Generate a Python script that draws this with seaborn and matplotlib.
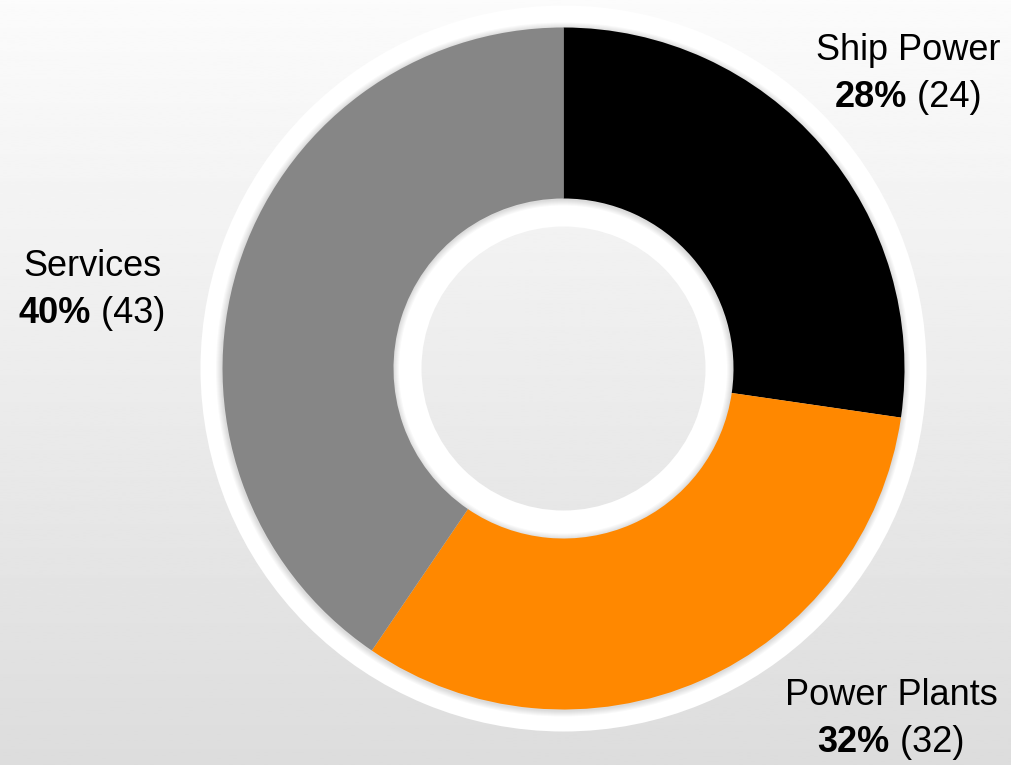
import numpy as np
import matplotlib
matplotlib.use("Agg")
import matplotlib.pyplot as plt
import seaborn as sns
from matplotlib.patches import Wedge
from matplotlib.offsetbox import TextArea, HPacker, VPacker, AnnotationBbox

# ---- data ----
segments = ["Ship Power", "Power Plants", "Services"]
shares = [27.3, 32.2, 40.5]          # slice sizes as drawn
pct_labels = [28, 32, 40]            # percentages printed on the labels
counts = [24, 32, 43]                # numbers in parentheses
colors = ["#000000", "#FF8800", "#868686"]

sns.set_theme(style="white")
plt.rcParams['font.family'] = ['Liberation Sans', 'DejaVu Sans']

W, H = 1012, 765

fig = plt.figure(figsize=(W / 100, H / 100), dpi=100)
ax = fig.add_axes([0, 0, 1, 1])

# background vertical gradient
grad = np.linspace(0.985, 0.865, 256).reshape(-1, 1)
ax.imshow(grad, cmap='gray', vmin=0, vmax=1, extent=(0, W, 0, H),
          aspect='auto', zorder=0, origin='upper')

cx, cy = 563.5, H - 368.5
R_white_out, R_out, R_in, R_white_in = 363, 341, 170, 142

# white ring behind the donut
ax.add_patch(Wedge((cx, cy), R_white_out, 0, 360, width=R_white_out - R_white_in,
                   fc='white', ec='none', zorder=1))

# soft shadow of the coloured donut
for k in range(1, 7):
    ax.add_patch(Wedge((cx - 0.5, cy - 1.0), R_out + k, 0, 360,
                       width=(R_out + k) - (R_in - k),
                       fc='black', ec='none', alpha=0.025, zorder=2))

wedges, _ = ax.pie(shares, colors=colors, startangle=90, counterclock=False,
                   center=(cx, cy), radius=R_out,
                   wedgeprops=dict(width=R_out - R_in, linewidth=0),
                   frame=False)
for w in wedges:
    w.set_zorder(3)

ax.set_aspect('auto')
ax.set_xlim(0, W)
ax.set_ylim(0, H)
ax.axis('off')

label_pos = {"Ship Power": (908, 74), "Power Plants": (891, 719), "Services": (92, 290)}
FS = 26
for name, pct, cnt in zip(segments, pct_labels, counts):
    t1 = TextArea(name, textprops=dict(fontsize=FS, color='black'))
    t2a = TextArea(f"{pct}%", textprops=dict(fontsize=FS, fontweight='bold', color='black'))
    t2b = TextArea(f" ({cnt})", textprops=dict(fontsize=FS, color='black'))
    line2 = HPacker(children=[t2a, t2b], align='baseline', pad=0, sep=0)
    box = VPacker(children=[t1, line2], align='center', pad=0, sep=9)
    x, y = label_pos[name]
    ab = AnnotationBbox(box, (x, H - y), xycoords='figure pixels', frameon=False,
                        box_alignment=(0.5, 0.5), zorder=5)
    ax.add_artist(ab)

fig.savefig("out.png", dpi=100)
